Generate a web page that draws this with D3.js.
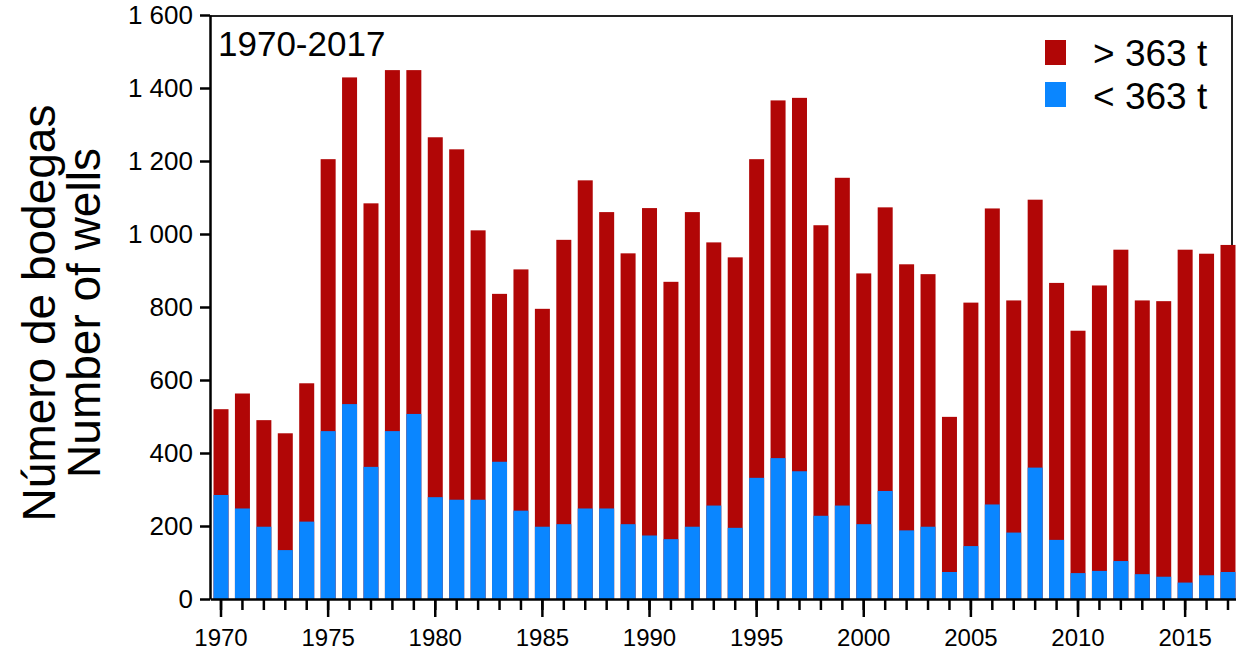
<!DOCTYPE html>
<html>
<head>
<meta charset="utf-8">
<script src="https://cdn.jsdelivr.net/npm/d3@7"></script>
<style>
  body { margin: 0; background: #fff; }
  svg { display: block; font-family: "Liberation Sans", Arial, sans-serif; }
</style>
</head>
<body>
<div id="chart"></div>
<script>
// Years 1970-2017
const years = d3.range(1970, 2018);

// Total wells (bar top)
const totals = [
  520, 563, 490, 454, 591, 1205, 1429, 1084, 1449, 1449,
  1265, 1232, 1010, 836, 903, 795, 984, 1147, 1060, 947,
  1071, 869, 1060, 977, 936, 1205, 1366, 1373, 1024, 1154,
  892, 1073, 917, 890, 499, 812, 1070, 818, 1094, 866,
  735, 859, 957, 818, 816, 957, 946, 970
];

// Wells < 363 t (blue part)
const small = [
  285, 248, 198, 134, 212, 460, 534, 362, 460, 507,
  279, 272, 272, 376, 242, 198, 205, 248, 248, 205,
  174, 164, 198, 256, 195, 332, 386, 350, 228, 256,
  205, 296, 188, 198, 74, 145, 259, 182, 360, 162,
  71, 77, 104, 68, 61, 45, 65, 74
];

const yTicks = [0, 200, 400, 600, 800, 1000, 1200, 1400, 1600];
const legendLabels = ["> 363 t", "< 363 t"];

const red = "#b10606";
const blue = "#0a86ff";

const W = 1236, H = 657;
const svg = d3.select("#chart").append("svg")
  .attr("width", W)
  .attr("height", H);

const x = d3.scaleBand()
  .domain(years)
  .range([210.3, 1238.7])
  .paddingInner(0.3)
  .paddingOuter(0.15);

const y = d3.scaleLinear()
  .domain([0, 1600])
  .range([599, 15]);

// frame (top and right)
svg.append("path")
  .attr("d", `M210,16H1232V599`)
  .attr("fill", "none")
  .attr("stroke", "#222")
  .attr("stroke-width", 2);

// bars: red total first, blue part on top
svg.selectAll(".big")
  .data(years)
  .enter()
  .append("rect")
  .attr("class", "big")
  .attr("x", d => x(d))
  .attr("width", x.bandwidth())
  .attr("y", (d, i) => y(totals[i]))
  .attr("height", (d, i) => y(0) - y(totals[i]))
  .attr("fill", red);

svg.selectAll(".small")
  .data(years)
  .enter()
  .append("rect")
  .attr("class", "small")
  .attr("x", d => x(d))
  .attr("width", x.bandwidth())
  .attr("y", (d, i) => y(small[i]))
  .attr("height", (d, i) => y(0) - y(small[i]))
  .attr("fill", blue);

// y axis
const fmt = d3.formatLocale({ decimal: ".", thousands: " ", grouping: [3], currency: ["", ""] }).format(",d");
const yAxis = svg.append("g")
  .attr("transform", "translate(210,0)")
  .call(d3.axisLeft(y).tickValues(yTicks).tickFormat(fmt).tickSize(10).tickPadding(7).tickSizeOuter(0));
yAxis.selectAll("text").attr("font-size", 26).attr("fill", "#000").attr("font-family", "Liberation Sans, Arial");
yAxis.selectAll("line").attr("stroke", "#000").attr("stroke-width", 2.5);
yAxis.select(".domain").attr("stroke", "#000").attr("stroke-width", 2.5);

// x axis: minor ticks every year, major every 5 years
const xMinor = svg.append("g")
  .attr("transform", "translate(0,599)")
  .call(d3.axisBottom(x).tickSize(11).tickSizeOuter(0).tickFormat(""));
xMinor.selectAll("line").attr("stroke", "#000").attr("stroke-width", 2.5);
xMinor.select(".domain").attr("stroke", "#000").attr("stroke-width", 2.5);

const xMajor = svg.append("g")
  .attr("transform", "translate(0,599)")
  .call(d3.axisBottom(x).tickValues(years.filter(d => d % 5 === 0)).tickSize(18).tickPadding(12).tickSizeOuter(0));
xMajor.select(".domain").remove();
xMajor.selectAll("line").attr("stroke", "#000").attr("stroke-width", 2.5);
xMajor.selectAll("text").attr("font-size", 24).attr("fill", "#000").attr("font-family", "Liberation Sans, Arial");

// period label
svg.append("text")
  .attr("x", 218)
  .attr("y", 56)
  .attr("font-size", 35)
  .text("1970-2017");

// y title, two lines
const titleLines = ["Número de bodegas", "Number of wells"];
svg.selectAll(".ytitle")
  .data(titleLines)
  .enter()
  .append("text")
  .attr("class", "ytitle")
  .attr("transform", (d, i) => `translate(${55 + i * 45},313) rotate(-90)`)
  .attr("text-anchor", "middle")
  .attr("font-size", 46)
  .text(d => d);

// legend
const legend = svg.append("g");
legendLabels.forEach((lab, i) => {
  legend.append("rect")
    .attr("x", 1045)
    .attr("y", 40 + i * 42)
    .attr("width", 21)
    .attr("height", 25)
    .attr("fill", i === 0 ? red : blue);
  legend.append("text")
    .attr("x", 1093)
    .attr("y", 66 + i * 43)
    .attr("font-size", 37)
    .text(lab);
});
</script>
</body>
</html>
